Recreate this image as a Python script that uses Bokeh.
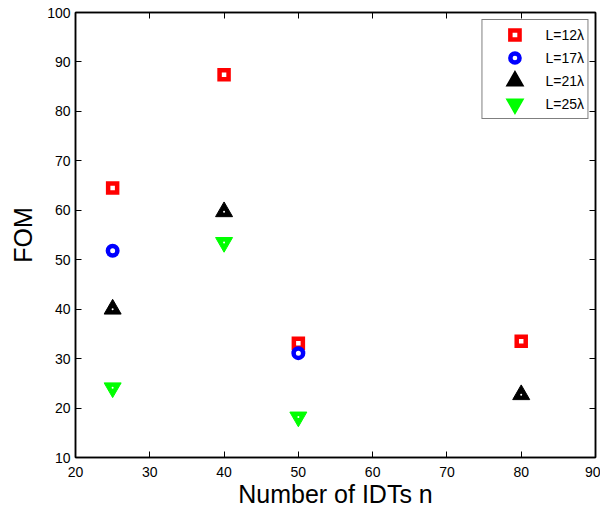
from bokeh.plotting import figure
from bokeh.models import Range1d, LinearAxis, FixedTicker, Legend, LegendItem
from bokeh.embed import file_html
from bokeh.resources import INLINE

# Data
n_L12 = [25, 40, 50, 80]
fom_L12 = [64.5, 87.4, 33.1, 33.5]
n_L17 = [25, 50]
fom_L17 = [51.8, 31.1]
n_L21 = [25, 40, 80]
fom_L21 = [40.0, 59.7, 22.7]
n_L25 = [25, 40, 50]
fom_L25 = [24.1, 53.5, 18.2]

x_ticks = [20, 30, 40, 50, 60, 70, 80, 90]
y_ticks = [10, 20, 30, 40, 50, 60, 70, 80, 90, 100]

FONT = "Liberation Sans"

p = figure(width=600, height=510,
           x_range=Range1d(20, 90), y_range=Range1d(10, 100),
           output_backend="svg", toolbar_location=None,
           min_border_left=75, min_border_right=5,
           min_border_top=12, min_border_bottom=52,
           x_axis_label="Number of IDTs n", y_axis_label="FOM")
p.grid.visible = False
p.outline_line_color = "black"
p.outline_line_width = 1.5
p.background_fill_color = "white"
p.border_fill_color = "white"


def style_axis(ax, labels=True):
    ax.axis_line_color = "black"
    ax.axis_line_width = 1.5
    ax.major_tick_in = 6
    ax.major_tick_out = 0
    ax.major_tick_line_color = "black"
    ax.major_tick_line_width = 1
    ax.minor_tick_line_color = None
    ax.major_label_text_font = FONT
    if labels:
        ax.major_label_text_color = "black"
        ax.major_label_text_font_size = "14px"
        ax.major_label_standoff = 6
        ax.axis_label_text_font = FONT
        ax.axis_label_text_font_style = "normal"
        ax.axis_label_text_font_size = "25px"
        ax.axis_label_text_color = "black"
    else:
        ax.major_label_text_color = None
        ax.major_label_text_font_size = "1px"
        ax.major_label_standoff = 0


p.xaxis.ticker = FixedTicker(ticks=x_ticks)
p.yaxis.ticker = FixedTicker(ticks=y_ticks)
for ax in p.xaxis + p.yaxis:
    style_axis(ax)
p.xaxis.major_label_standoff = 9
p.xaxis.axis_label_standoff = 0
p.yaxis.axis_label_standoff = 7
p.yaxis.major_label_standoff = 5

top_ax = LinearAxis(ticker=FixedTicker(ticks=x_ticks))
right_ax = LinearAxis(ticker=FixedTicker(ticks=y_ticks))
style_axis(top_ax, labels=False)
style_axis(right_ax, labels=False)
p.add_layout(top_ax, "above")
p.add_layout(right_ax, "right")

r12 = p.scatter(n_L12, fom_L12, marker="square", size=9, line_width=4.5,
                line_color="#ff0000", fill_color=None, line_join="miter")
r17 = p.scatter(n_L17, fom_L17, marker="circle", size=9.5, line_width=4.5,
                line_color="#0000ff", fill_color=None)
r21 = p.scatter(n_L21, fom_L21, marker="triangle", size=17, line_width=1,
                line_color="black", fill_color="black", line_join="miter")
p.scatter(n_L21, fom_L21, marker="circle", size=2, line_color=None,
          fill_color="white")
r25 = p.scatter(n_L25, fom_L25, marker="inverted_triangle", size=17, line_width=1,
                line_color="#00ff00", fill_color="#00ff00", line_join="miter")
p.scatter(n_L25, fom_L25, marker="circle", size=2, line_color=None,
          fill_color="white")

# legend-only copies of the triangles (thick mitred outline makes them as big as in the plot)
l21 = p.scatter(n_L21, fom_L21, marker="triangle", line_width=5.6,
                line_color="black", fill_color="black", line_join="miter",
                visible=False)
l25 = p.scatter(n_L25, fom_L25, marker="inverted_triangle", line_width=5.6,
                line_color="#00ff00", fill_color="#00ff00", line_join="miter",
                visible=False)

legend = Legend(items=[
    LegendItem(label="L=12\u03bb", renderers=[r12]),
    LegendItem(label="L=17\u03bb", renderers=[r17]),
    LegendItem(label="L=21\u03bb", renderers=[l21]),
    LegendItem(label="L=25\u03bb", renderers=[l25]),
], location="top_right")
legend.margin = 7
legend.padding = 3
legend.spacing = 0
legend.glyph_width = 58
legend.glyph_height = 23
legend.label_height = 23
legend.label_standoff = 2
legend.label_text_font = FONT
legend.label_text_font_size = "14px"
legend.label_text_color = "black"
legend.border_line_color = "black"
legend.border_line_width = 1
legend.background_fill_color = "white"
legend.background_fill_alpha = 1
p.add_layout(legend, "center")

open("out.html", "w").write(file_html(p, INLINE))
